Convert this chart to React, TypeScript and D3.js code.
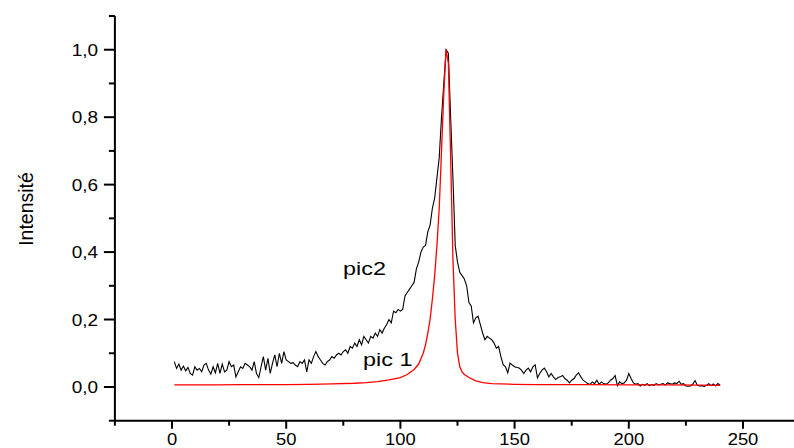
import React from "react";
import * as d3 from "d3";

// pic2 (black, noisy) : one value per channel, channels 1..240
const pic2Values = [
  0.075, 0.055, 0.068, 0.05, 0.062, 0.048, 0.058, 0.04, 0.035, 0.06,
  0.05, 0.055, 0.045, 0.065, 0.07, 0.05, 0.038, 0.06, 0.042, 0.07,
  0.04, 0.068, 0.045, 0.05, 0.075, 0.06, 0.065, 0.03, 0.045, 0.06,
  0.055, 0.07, 0.065, 0.06, 0.05, 0.075, 0.04, 0.028, 0.06, 0.09,
  0.05, 0.085, 0.04, 0.07, 0.095, 0.06, 0.1, 0.07, 0.105, 0.08,
  0.075, 0.07, 0.072, 0.065, 0.06, 0.075, 0.07, 0.08, 0.045, 0.08,
  0.07, 0.09, 0.105, 0.09, 0.08, 0.07, 0.065, 0.075, 0.08, 0.09,
  0.085, 0.095, 0.1, 0.095, 0.105, 0.11, 0.1, 0.12, 0.115, 0.13,
  0.12, 0.14, 0.125, 0.15, 0.14, 0.13, 0.15, 0.145, 0.16, 0.15,
  0.17, 0.16, 0.175, 0.185, 0.2, 0.19, 0.225, 0.22, 0.23, 0.225,
  0.23, 0.27, 0.28, 0.29, 0.3, 0.31, 0.35, 0.37, 0.4, 0.415,
  0.42, 0.46, 0.48, 0.53, 0.56, 0.62, 0.68, 0.8, 0.9, 1.0,
  0.99, 0.8, 0.62, 0.42, 0.37, 0.34, 0.33, 0.32, 0.3, 0.25,
  0.24, 0.19, 0.205, 0.21, 0.185, 0.16, 0.14, 0.15, 0.145, 0.14,
  0.13, 0.115, 0.12, 0.09, 0.066, 0.06, 0.042, 0.071, 0.065, 0.06,
  0.058, 0.056, 0.05, 0.04, 0.05, 0.056, 0.045, 0.06, 0.066, 0.027,
  0.04, 0.05, 0.056, 0.045, 0.03, 0.04, 0.03, 0.022, 0.028, 0.03,
  0.034, 0.025, 0.02, 0.012, 0.02, 0.025, 0.035, 0.042, 0.03, 0.02,
  0.015, 0.01, 0.007, 0.015, 0.01, 0.02, 0.008, 0.015, 0.01, 0.008,
  0.012, 0.02, 0.025, 0.034, 0.004, 0.015, 0.01, 0.012, 0.02, 0.04,
  0.025, 0.012, 0.008, 0.01, 0.003, 0.008, 0.005, 0.01, 0.004, 0.007,
  0.005, 0.01, 0.006, 0.008, 0.01, 0.006, 0.012, 0.01, 0.008, 0.012,
  0.01, 0.017, 0.008, 0.01, 0.003, 0.002, 0.003, 0.008, 0.019, 0.005,
  0.003, 0.004, 0.002, 0.005, 0.01, 0.004, 0.009, 0.003, 0.01, 0.005,
];

// pic 1 (red, smooth)
const pic1X = [
  1, 10, 20, 30, 40, 50, 60, 70, 80, 85, 90, 95, 100, 103, 106, 108, 110, 111,
  112, 113, 114, 115, 116, 117, 118, 119, 120, 121, 122, 123, 124, 125, 126,
  127, 128, 130, 133, 136, 140, 150, 160, 180, 200, 220, 240,
];
const pic1Y = [
  0.006, 0.006, 0.006, 0.007, 0.007, 0.007, 0.008, 0.009, 0.011, 0.013, 0.016,
  0.021, 0.028, 0.037, 0.052, 0.068, 0.1, 0.125, 0.16, 0.2, 0.26, 0.33, 0.42,
  0.53, 0.7, 0.87, 1.0, 0.96, 0.68, 0.38, 0.2, 0.1, 0.06, 0.045, 0.037, 0.028,
  0.018, 0.013, 0.01, 0.008, 0.007, 0.007, 0.006, 0.006, 0.005,
];

const xMajorTicks = [0, 50, 100, 150, 200, 250];
const xMinorTicks = [-25, 25, 75, 125, 175, 225, 275];
const yMajorTicks = [0, 0.2, 0.4, 0.6, 0.8, 1.0];
const yTickLabels = ["0,0", "0,2", "0,4", "0,6", "0,8", "1,0"];
const yMinorTicks = [-0.1, 0.1, 0.3, 0.5, 0.7, 0.9, 1.1];

const W = 794;
const H = 448;
const FONT = "'Liberation Sans', Arial, Helvetica, sans-serif";

export default function App() {
  const x = d3.scaleLinear().domain([-25, 275]).range([114.9, 800.1]);
  const y = d3.scaleLinear().domain([-0.1, 1.1]).range([420.7, 16]);

  const pic2 = pic2Values.map((v, i) => [i + 1, v] as [number, number]);
  const pic1 = pic1X.map((v, i) => [v, pic1Y[i]] as [number, number]);

  const line = d3
    .line<[number, number]>()
    .x((d) => x(d[0]))
    .y((d) => y(d[1]));

  const x0 = x(-25);
  const yBottom = y(-0.1);

  return (
    <svg
      width={W}
      height={H}
      style={{ position: "absolute", left: 0, top: 0, display: "block", background: "#fff" }}
    >
      <rect x={0} y={0} width={W} height={H} fill="#fff" />
      {/* curves */}
      <path d={line(pic2) || ""} fill="none" stroke="#000" strokeWidth={1.1} strokeLinejoin="miter" />
      <path d={line(pic1) || ""} fill="none" stroke="#ff0000" strokeWidth={1.3} />

      {/* axes */}
      <line x1={x0} x2={x0} y1={y(1.1)} y2={yBottom} stroke="#000" strokeWidth={2} />
      <line x1={x0 - 1} x2={x(275)} y1={yBottom} y2={yBottom} stroke="#000" strokeWidth={2} />

      {yMajorTicks.map((t, i) => (
        <g key={"ym" + i}>
          <line x1={x0 - 11} x2={x0} y1={y(t)} y2={y(t)} stroke="#000" strokeWidth={2} />
          <text
            transform={`translate(98,${y(t) + 6}) scale(1.15,1)`}
            textAnchor="end"
            fontFamily={FONT}
            fontSize={16.5}
            fill="#000"
          >
            {yTickLabels[i]}
          </text>
        </g>
      ))}
      {yMinorTicks.map((t, i) => (
        <line key={"yn" + i} x1={x0 - 6} x2={x0} y1={y(t)} y2={y(t)} stroke="#000" strokeWidth={2} />
      ))}

      {xMajorTicks.map((t, i) => (
        <g key={"xm" + i}>
          <line x1={x(t)} x2={x(t)} y1={yBottom} y2={yBottom + 8} stroke="#000" strokeWidth={2} />
          <text
            transform={`translate(${x(t)},445) scale(1.15,1)`}
            textAnchor="middle"
            fontFamily={FONT}
            fontSize={16}
            fill="#000"
          >
            {t}
          </text>
        </g>
      ))}
      {xMinorTicks.map((t, i) => (
        <line key={"xn" + i} x1={x(t)} x2={x(t)} y1={yBottom} y2={yBottom + 5} stroke="#000" strokeWidth={2} />
      ))}

      {/* axis title */}
      <text
        transform={`translate(32.5,${209}) rotate(-90)`}
        textAnchor="middle"
        fontFamily={FONT}
        fontSize={19.5}
        fill="#000"
      >
        Intensité
      </text>

      {/* annotations */}
      <text
        transform={`translate(343,275) scale(1.3,1)`}
        fontFamily={FONT}
        fontSize={18}
        fill="#000"
      >
        pic2
      </text>
      <text
        transform={`translate(363,366) scale(1.3,1)`}
        fontFamily={FONT}
        fontSize={18}
        fill="#000"
      >
        pic 1
      </text>
    </svg>
  );
}
